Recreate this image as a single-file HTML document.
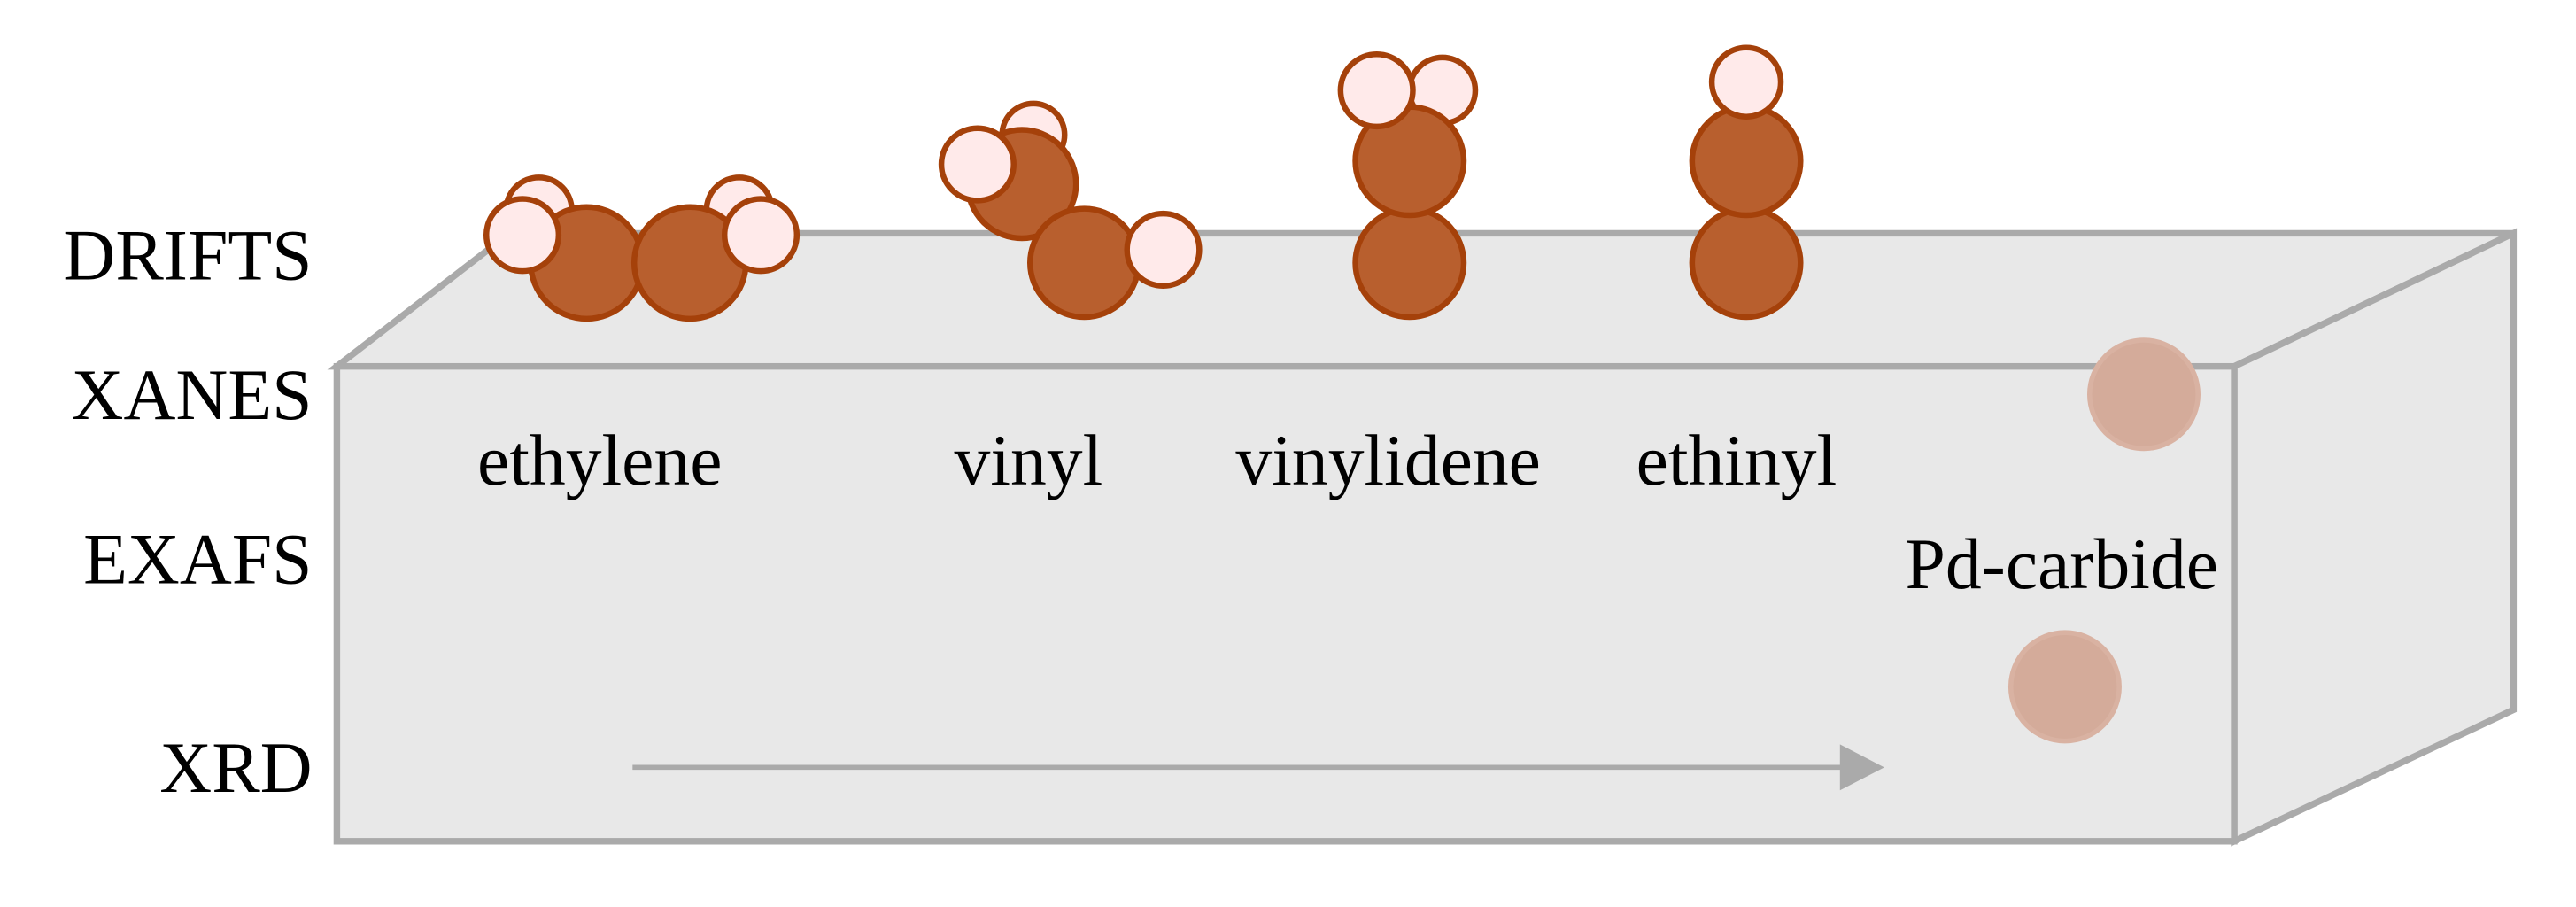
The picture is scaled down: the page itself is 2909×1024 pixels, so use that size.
<!DOCTYPE html>
<html><head><meta charset="utf-8"><style>html,body{margin:0;padding:0;background:#fff}svg{display:block}</style></head>
<body>
<svg width="2909" height="1024" viewBox="0 0 1568 552" xmlns="http://www.w3.org/2000/svg" font-family="'Liberation Serif', serif" font-size="44" fill="#000">
<g stroke="#aaaaaa" stroke-width="4" fill="#e8e8e8" stroke-linejoin="miter">
<polygon points="205,223 310,142 1530,142 1360,223"/>
<polygon points="1360,223 1530,142 1530,432 1360,512"/>
<rect x="205" y="223" width="1155" height="289"/>
</g>
<g fill="#d4ab9a" stroke="#d9b2a2" stroke-width="3">
<circle cx="1305" cy="240" r="33"/>
<circle cx="1257" cy="418" r="33"/>
</g>
<line x1="385" y1="467" x2="1125" y2="467" stroke="#aaaaaa" stroke-width="3"/>
<polygon points="1120,453 1147,467 1120,481" fill="#aaaaaa"/>
<g stroke="#a5410a" stroke-width="3.5">
<!-- ethylene -->
<circle cx="328" cy="128" r="20" fill="#ffeaea"/>
<circle cx="450" cy="128" r="20" fill="#ffeaea"/>
<circle cx="357" cy="160" r="34" fill="#b85f2e"/>
<circle cx="420" cy="160" r="34" fill="#b85f2e"/>
<circle cx="318" cy="143" r="22" fill="#ffeaea"/>
<circle cx="463" cy="143" r="22" fill="#ffeaea"/>
<!-- vinyl -->
<circle cx="629" cy="82" r="19" fill="#ffeaea"/>
<circle cx="622" cy="112" r="33" fill="#b85f2e"/>
<circle cx="595" cy="100" r="22" fill="#ffeaea"/>
<circle cx="660" cy="160" r="33" fill="#b85f2e"/>
<circle cx="708" cy="152" r="22" fill="#ffeaea"/>
<!-- vinylidene -->
<circle cx="878" cy="55" r="20" fill="#ffeaea"/>
<circle cx="858" cy="160" r="33" fill="#b85f2e"/>
<circle cx="858" cy="98" r="33" fill="#b85f2e"/>
<circle cx="838" cy="55" r="22" fill="#ffeaea"/>
<!-- ethinyl -->
<circle cx="1063" cy="160" r="33" fill="#b85f2e"/>
<circle cx="1063" cy="98" r="33" fill="#b85f2e"/>
<circle cx="1063" cy="50" r="21" fill="#ffeaea"/>
</g>
<g text-anchor="end">
<text x="190" y="170">DRIFTS</text>
<text x="190" y="255">XANES</text>
<text x="190" y="355">EXAFS</text>
<text x="190" y="482">XRD</text>
</g>
<g text-anchor="middle">
<text x="365" y="295">ethylene</text>
<text x="626" y="295">vinyl</text>
<text x="845" y="295">vinylidene</text>
<text x="1057" y="295">ethinyl</text>
<text x="1255" y="358">Pd-carbide</text>
</g>
</svg>
</body></html>
